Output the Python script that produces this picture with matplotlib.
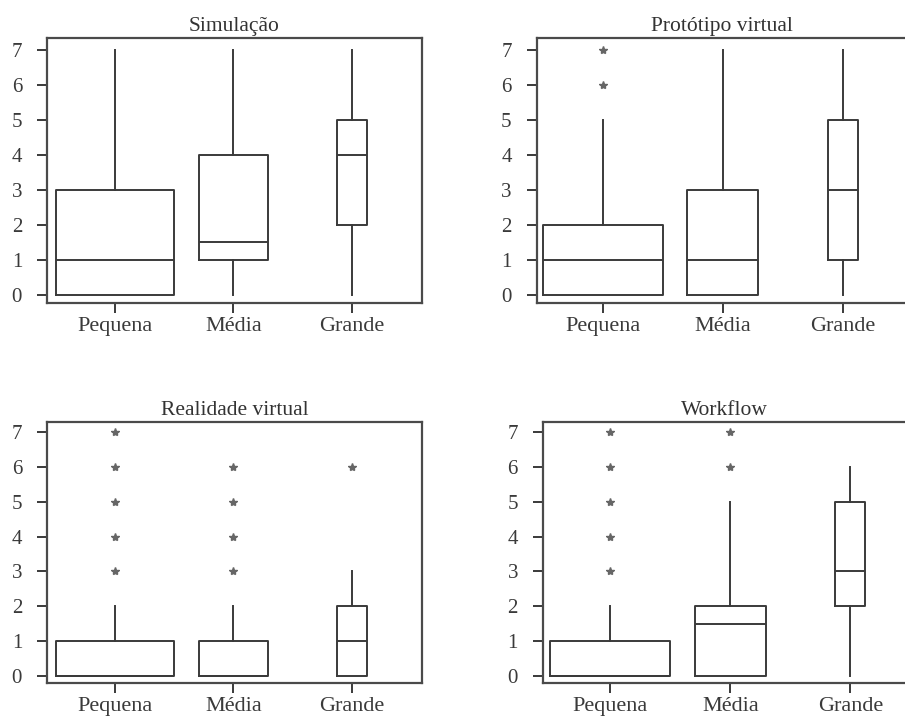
import numpy as np
import matplotlib
matplotlib.use('Agg')
import matplotlib.pyplot as plt

plt.rcParams['font.family'] = ['Liberation Serif', 'DejaVu Serif']

cats = ['Pequena', 'Média', 'Grande']
widths = [1.0, 0.59, 0.25]

# box stats per panel: q1, median, q3, lower whisker, upper whisker, outliers
sim_q1 = [0, 1, 2]
sim_med = [1, 1.5, 4]
sim_q3 = [3, 4, 5]
sim_lo = [0, 0, 0]
sim_hi = [7, 7, 7]
sim_out = [[], [], []]

proto_q1 = [0, 0, 1]
proto_med = [1, 1, 3]
proto_q3 = [2, 3, 5]
proto_lo = [0, 0, 0]
proto_hi = [5, 7, 7]
proto_out = [[6, 7], [], []]

rv_q1 = [0, 0, 0]
rv_med = [0, 0, 1]
rv_q3 = [1, 1, 2]
rv_lo = [0, 0, 0]
rv_hi = [2, 2, 3]
rv_out = [[3, 4, 5, 6, 7], [3, 4, 5, 6], [6]]

wf_q1 = [0, 0, 2]
wf_med = [0, 1.5, 3]
wf_q3 = [1, 2, 5]
wf_lo = [0, 0, 0]
wf_hi = [2, 5, 6]
wf_out = [[3, 4, 5, 6, 7], [6, 7], []]

panels = [
    ('Simulação', sim_q1, sim_med, sim_q3, sim_lo, sim_hi, sim_out),
    ('Protótipo virtual', proto_q1, proto_med, proto_q3, proto_lo, proto_hi, proto_out),
    ('Realidade virtual', rv_q1, rv_med, rv_q3, rv_lo, rv_hi, rv_out),
    ('Workflow', wf_q1, wf_med, wf_q3, wf_lo, wf_hi, wf_out),
]

# axes rects in figure fraction and x-limits
rects = [
    [0.052, 0.578, 0.414, 0.369],
    [0.593, 0.578, 0.409, 0.369],
    [0.052, 0.049, 0.414, 0.363],
    [0.600, 0.049, 0.402, 0.363],
]
xlims = [(0.426, 3.59), (0.448, 3.535), (0.426, 3.59), (0.44, 3.47)]
ylims = [(-0.23, 7.34), (-0.23, 7.34), (-0.2, 7.29), (-0.2, 7.29)]

lc = '#3a3a3a'

fig = plt.figure(figsize=(9.05, 7.18), dpi=100)

for (title, q1, med, q3, lo, hi, out), rect, xl, yl in zip(panels, rects, xlims, ylims):
    ax = fig.add_axes(rect)
    stats = []
    for i in range(3):
        stats.append(dict(q1=q1[i], med=med[i], q3=q3[i], whislo=lo[i],
                          whishi=hi[i], fliers=out[i], label=cats[i]))
    ax.bxp(stats, positions=[1, 2, 3], widths=widths, showcaps=False,
           boxprops=dict(color=lc, lw=1.4),
           medianprops=dict(color=lc, lw=1.4),
           whiskerprops=dict(color=lc, lw=1.4),
           flierprops=dict(marker='*', markersize=6, markerfacecolor='#666666',
                           markeredgecolor='#666666', linestyle='none'))
    ax.set_xlim(*xl)
    ax.set_ylim(*yl)
    ax.set_yticks(range(8))
    ax.set_title(title, fontsize=15.5, color='#333333', pad=5)
    ax.tick_params(axis='y', length=7, width=1.4, pad=11, labelsize=15,
                   colors='#3a3a3a')
    ax.tick_params(axis='x', length=7, width=1.4, pad=3, labelsize=16,
                   colors='#3a3a3a')
    for s in ax.spines.values():
        s.set_color('#4a4a4a')
        s.set_linewidth(1.6)

fig.savefig('out.png', dpi=100)
